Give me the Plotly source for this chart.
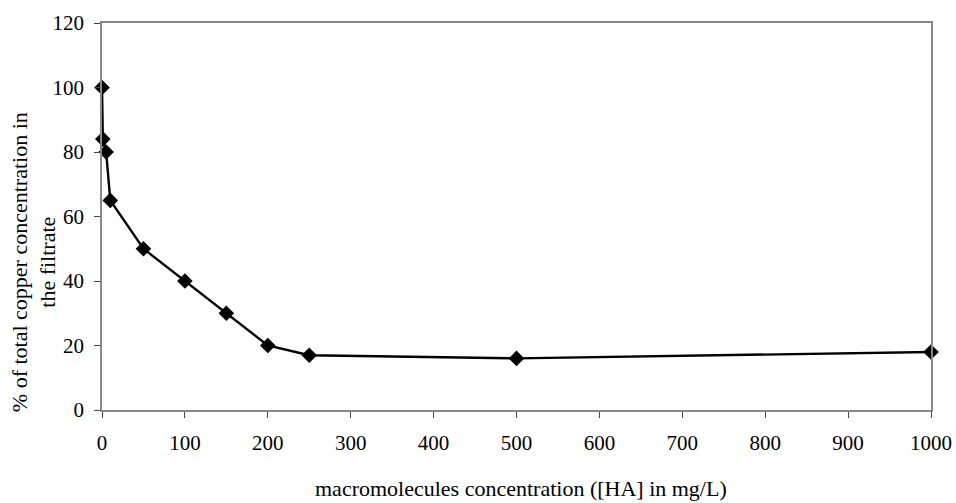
import plotly.graph_objects as go

ha_conc = [0, 1, 5, 10, 50, 100, 150, 200, 250, 500, 1000]
cu_pct = [100, 84, 80, 65, 50, 40, 30, 20, 17, 16, 18]

x_ticks = [0, 100, 200, 300, 400, 500, 600, 700, 800, 900, 1000]
y_ticks = [0, 20, 40, 60, 80, 100, 120]

x_title = "macromolecules concentration ([HA] in mg/L)"
y_title = "% of total copper concentration in<br>the filtrate"

fig = go.Figure()
fig.add_trace(go.Scatter(
    x=ha_conc, y=cu_pct, mode="lines+markers",
    line=dict(color="black", width=2.4),
    marker=dict(symbol="diamond", size=12, color="black"),
    showlegend=False, cliponaxis=False,
))

font = "Liberation Serif, Times New Roman, serif"
fig.update_layout(
    width=956, height=503,
    margin=dict(l=102, r=25, t=23, b=93),
    paper_bgcolor="white", plot_bgcolor="white",
    font=dict(family=font, size=21, color="black"),
    xaxis=dict(
        range=[0, 1000], tickvals=x_ticks, ticks="outside", ticklen=6,
        tickcolor="#444", showline=True, linecolor="#888", linewidth=1.5,
        mirror=True, showgrid=False, zeroline=False, automargin=False,
        ticklabelstandoff=7, tickfont=dict(size=21),
    ),
    yaxis=dict(
        range=[0, 120], tickvals=y_ticks, ticks="outside", ticklen=6,
        tickcolor="#444", showline=True, linecolor="#888", linewidth=1.5,
        mirror=True, showgrid=False, zeroline=False, automargin=False,
        ticklabelstandoff=6, tickfont=dict(size=21),
    ),
    annotations=[
        dict(text=x_title, xref="paper", yref="paper", x=0.5, y=0,
             xanchor="center", yanchor="middle", xshift=4, yshift=-78,
             showarrow=False, font=dict(size=22)),
        dict(text=y_title, xref="paper", yref="paper", x=0, y=0.382,
             xanchor="center", yanchor="middle", xshift=-68, textangle=-90,
             showarrow=False, font=dict(size=22)),
    ],
)

fig.write_html(
    "out.html",
    config={"displayModeBar": False},
    post_script="document.body.style.margin='0';document.body.style.overflow='hidden';",
)
